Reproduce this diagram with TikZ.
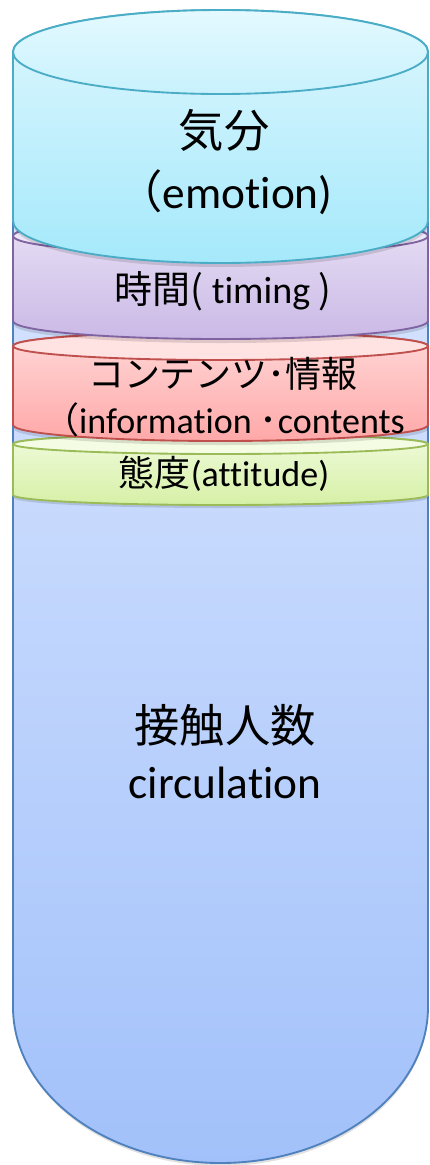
\documentclass[tikz,border=0pt]{standalone}
\usepackage{fontspec}
\setmainfont{Carlito}[Ligatures=NoCommon]
\newfontfamily\jp{Noto Sans CJK JP}
\begin{document}
\begin{tikzpicture}[x=0.75pt,y=0.75pt]
\definecolor{cyanline}{RGB}{75,172,198}
\definecolor{purpline}{RGB}{128,100,162}
\definecolor{redline}{RGB}{192,80,77}
\definecolor{greenline}{RGB}{155,187,89}
\definecolor{blueline}{RGB}{79,129,189}
\definecolor{cyanA}{RGB}{222,247,254}
\definecolor{cyanB}{RGB}{165,233,251}
\definecolor{cyanT}{RGB}{228,249,255}
\definecolor{cyanU}{RGB}{200,242,253}
\definecolor{purpA}{RGB}{232,224,245}
\definecolor{purpB}{RGB}{202,185,230}
\definecolor{purpT}{RGB}{236,230,247}
\definecolor{redA}{RGB}{255,216,216}
\definecolor{redB}{RGB}{255,168,168}
\definecolor{redT}{RGB}{255,226,226}
\definecolor{greenA}{RGB}{240,251,220}
\definecolor{greenB}{RGB}{214,240,166}
\definecolor{greenT}{RGB}{244,253,228}
\definecolor{blueA}{RGB}{216,229,255}
\definecolor{blueB}{RGB}{162,193,250}
\tikzset{
  layer/.style={line width=1.4pt},
  shade/.style={fill=black,fill opacity=0.12,draw=none},
  bigtxt/.style={inner sep=0pt,font=\fontsize{34}{40}\selectfont},
  smalltxt/.style={inner sep=0pt,font=\fontsize{27}{32}\selectfont},
  midtxt/.style={inner sep=0pt,font=\fontsize{28.5}{34}\selectfont},
}
\useasboundingbox (0,0) rectangle (429,-1165);
% blue tall shape
\path[shade] (14,-200) -- (14,-1010) arc[start angle=180,end angle=360,x radius=207,y radius=156] -- (428,-200) -- cycle;
\path[layer,draw=blueline,top color=blueA,bottom color=blueB] (13,-200) -- (13,-1007) arc[start angle=180,end angle=360,x radius=207.5,y radius=156] -- (428,-200) -- cycle;
% green layer
\path[shade] (14,-447) -- (14,-498) arc[start angle=180,end angle=360,x radius=207,y radius=10] -- (428,-447) -- cycle;
\path[layer,draw=greenline,top color=greenA,bottom color=greenB] (13,-444) -- (13,-495) arc[start angle=180,end angle=360,x radius=207.5,y radius=10] -- (428,-444) arc[start angle=0,end angle=180,x radius=207.5,y radius=10] -- cycle;
\path[layer,draw=greenline,fill=greenT] (220.5,-444) ellipse[x radius=207.5,y radius=10];
% red layer
\path[shade] (14,-350) -- (14,-429) arc[start angle=180,end angle=360,x radius=207,y radius=16] -- (428,-350) -- cycle;
\path[layer,draw=redline,top color=redA,bottom color=redB] (13,-346) -- (13,-425) arc[start angle=180,end angle=360,x radius=207.5,y radius=16] -- (428,-346) arc[start angle=0,end angle=180,x radius=207.5,y radius=14] -- cycle;
\path[layer,draw=redline,fill=redT] (220.5,-346) ellipse[x radius=207.5,y radius=14];
% purple layer
\path[shade] (14,-240) -- (14,-325) arc[start angle=180,end angle=360,x radius=207,y radius=18] -- (428,-240) -- cycle;
\path[layer,draw=purpline,top color=purpA,bottom color=purpB] (13,-236) -- (13,-321) arc[start angle=180,end angle=360,x radius=207.5,y radius=18] -- (428,-236) arc[start angle=0,end angle=180,x radius=207.5,y radius=18] -- cycle;
\path[layer,draw=purpline,fill=purpT] (220.5,-236) ellipse[x radius=207.5,y radius=18];
% cyan cylinder
\path[shade] (14,-56) -- (14,-225) arc[start angle=180,end angle=360,x radius=207,y radius=42] -- (428,-56) -- cycle;
\path[layer,draw=cyanline,top color=cyanA,bottom color=cyanB] (13,-52) -- (13,-221) arc[start angle=180,end angle=360,x radius=207.5,y radius=42] -- (428,-52) arc[start angle=0,end angle=180,x radius=207.5,y radius=42] -- cycle;
\path[layer,draw=cyanline,top color=cyanT,bottom color=cyanU] (220.5,-52) ellipse[x radius=207.5,y radius=42];
% texts
\node[bigtxt] (emo1) at (224,-130) {\jp 気分};
\node[bigtxt] (emo2) at (225,-192) {{\jp （}emotion)};
\node[midtxt] (tim) at (223,-291) {{\jp 時間(} timing {\jp )}};
\node[smalltxt] (inf1) at (223,-374) {\jp コンテンツ･情報};
\node[smalltxt] (inf2) at (224,-420) {{\jp （}information {\jp ･}contents};
\node[smalltxt] (att) at (224,-474) {{\jp 態度}(attitude)};
\node[bigtxt] (cir1) at (225,-725) {\jp 接触人数};
\node[bigtxt] (cir2) at (225,-783) {circulation};
\end{tikzpicture}
\end{document}
